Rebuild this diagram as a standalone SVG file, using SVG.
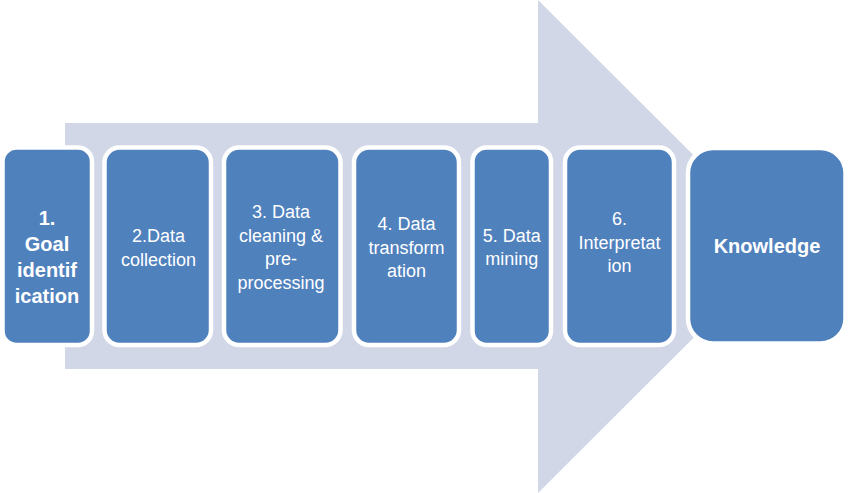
<svg xmlns="http://www.w3.org/2000/svg" width="850" height="493" viewBox="0 0 850 493">
<style>
.box{fill:#4F81BD;stroke:#FFFFFF;stroke-width:4.5}
.t{font-family:"Liberation Sans",Arial,sans-serif;font-size:18px;fill:#FFFFFF;text-anchor:middle}
.b{font-family:"Liberation Sans",Arial,sans-serif;font-size:20px;font-weight:bold;fill:#FFFFFF;text-anchor:middle}
</style>
<rect width="850" height="493" fill="#FFFFFF"/>
<g id="connectors">
<path d="M65,123 L538,123 L538,0 L785,246.5 L538,493 L538,369 L65,369 Z" fill="#D1D7E7"/>
</g>
<g id="n1">
<rect class="box" x="2.5" y="147.5" width="89.5" height="197.5" rx="14"/>
<text class="b" x="47" y="225">1.</text>
<text class="b" x="47" y="251">Goal</text>
<text class="b" x="47" y="277">identif</text>
<text class="b" x="47" y="303">ication</text>
</g>
<g id="n2">
<rect class="box" x="104.5" y="147.5" width="106.5" height="197.5" rx="15"/>
<text class="t" x="158.5" y="242">2.Data</text>
<text class="t" x="158.5" y="265.5">collection</text>
</g>
<g id="n3">
<rect class="box" x="224" y="147.5" width="116.5" height="197.5" rx="15"/>
<text class="t" x="281" y="218">3. Data</text>
<text class="t" x="281" y="241.5">cleaning &amp;</text>
<text class="t" x="281" y="265">pre-</text>
<text class="t" x="281" y="288.5">processing</text>
</g>
<g id="n4">
<rect class="box" x="354" y="147.5" width="105" height="197.5" rx="15"/>
<text class="t" x="406.5" y="230">4. Data</text>
<text class="t" x="406.5" y="253.5">transform</text>
<text class="t" x="406.5" y="277">ation</text>
</g>
<g id="n5">
<rect class="box" x="472.5" y="147.5" width="78.5" height="197.5" rx="14"/>
<text class="t" x="511.75" y="241.5">5. Data</text>
<text class="t" x="511.75" y="265">mining</text>
</g>
<g id="n6">
<rect class="box" x="565" y="147.5" width="109" height="197.5" rx="15"/>
<text class="t" x="619.5" y="225">6.</text>
<text class="t" x="619.5" y="248.5">Interpretat</text>
<text class="t" x="619.5" y="272">ion</text>
</g>
<g id="knowledge">
<rect class="box" x="688" y="148" width="157.5" height="195.5" rx="25" stroke-width="3"/>
<text class="b" x="767" y="253" font-size="18.5">Knowledge</text>
</g>
</svg>
